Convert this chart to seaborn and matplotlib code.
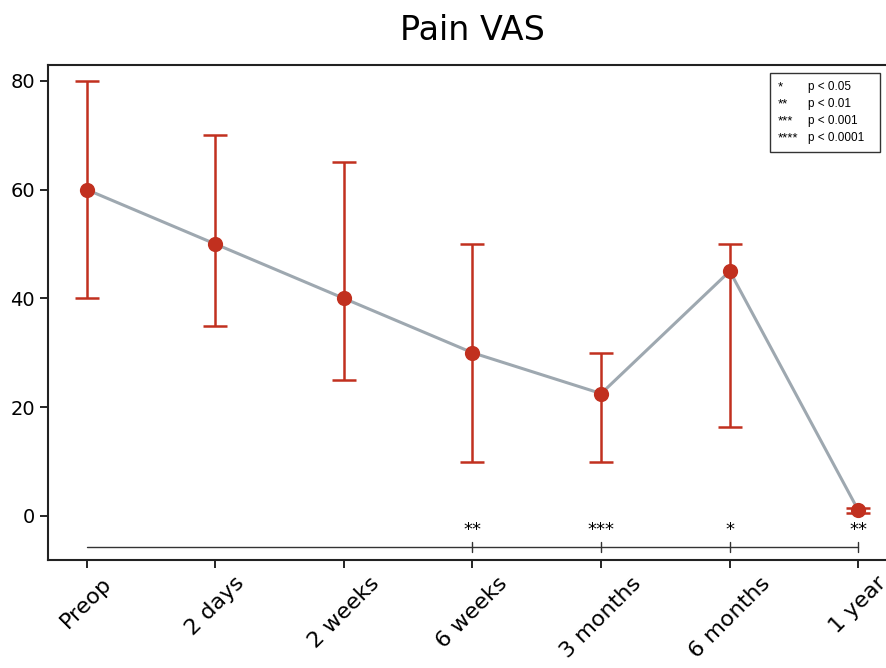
import matplotlib
matplotlib.use("Agg")
import matplotlib.pyplot as plt
import seaborn as sns
import pandas as pd

categories = ["Preop", "2 days", "2 weeks", "6 weeks", "3 months", "6 months", "1 year"]
means = [60, 50, 40, 30, 22.5, 45, 1]
lower = [40, 35, 25, 10, 10, 16.3, 0.5]
upper = [80, 70, 65, 50, 30, 50, 1.5]
sig_idx = [3, 4, 5, 6]
sig_stars = ["**", "***", "*", "**"]
legend_stars = ["*", "**", "***", "****"]
legend_p = ["p < 0.05", "p < 0.01", "p < 0.001", "p < 0.0001"]

sns.set_style("ticks")
plt.rcParams['font.family'] = ['DejaVu Sans']
for key in ["text.color", "xtick.color", "ytick.color", "axes.labelcolor"]:
    plt.rcParams[key] = "black"

df = pd.DataFrame({"x": range(len(categories)), "mean": means})

fig = plt.figure(figsize=(8.87, 6.68), dpi=100)
ax = fig.add_axes([48/887, 1-560/668, (897-48)/887, (560-65)/668])

red = "#c1301f"
gray = "#9ea8b0"

sns.lineplot(data=df, x="x", y="mean", ax=ax, color=gray, linewidth=2.2, zorder=2)
yerr = [[m - l for m, l in zip(means, lower)], [u - m for m, u in zip(means, upper)]]
ax.errorbar(df["x"], df["mean"], yerr=yerr, fmt="none", ecolor=red, elinewidth=1.8,
            capsize=8.5, capthick=1.8, zorder=3)
sns.scatterplot(data=df, x="x", y="mean", ax=ax, color=red, s=120, edgecolor=red,
                linewidth=0, zorder=4)

# significance bar
ybar = -5.7
ax.plot([0, 6], [ybar, ybar], color="#333333", linewidth=1.0, zorder=1)
for i, s in zip(sig_idx, sig_stars):
    ax.plot([i, i], [ybar - 0.9, ybar + 0.9], color="#333333", linewidth=1.0)
    ax.text(i, ybar + 1.5, s, ha="center", va="bottom", fontsize=13, color="black")

ax.set_xlim(-0.3, 6.3)
ax.set_ylim(-8.1, 82.9)
ax.set_yticks([0, 20, 40, 60, 80])
ax.set_xticks(range(len(categories)))
ax.set_xticklabels(categories, rotation=45, ha="center", fontsize=16)
ax.tick_params(axis="y", labelsize=14, length=6, width=1.2)
ax.tick_params(axis="x", length=6, width=1.2)
ax.set_xlabel("")
ax.set_ylabel("")
for sp in ax.spines.values():
    sp.set_linewidth(1.5)
    sp.set_color("#222222")

fig.text(472/887, 1-30/668, "Pain VAS", ha="center", va="center", fontsize=24)

# legend box
lx0, ly0 = 770, 73
fig.patches.append(plt.Rectangle((lx0/887, 1-152/668), (880-lx0)/887, (152-ly0)/668,
                                 transform=fig.transFigure, fill=False,
                                 edgecolor="#333333", linewidth=1.0))
for k, (s, p) in enumerate(zip(legend_stars, legend_p)):
    yy = 1 - (87 + k*17)/668
    fig.text(778/887, yy, s, fontsize=9.5, va="center", ha="left", family="Liberation Sans")
    fig.text(808/887, yy, p, fontsize=8.5, va="center", ha="left", family="Liberation Sans")

fig.savefig("out.png", dpi=100)
